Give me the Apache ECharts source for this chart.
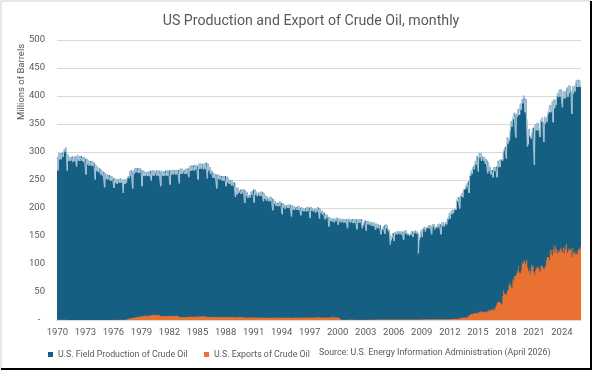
<!DOCTYPE html>
<html><head><meta charset="utf-8">
<script src="https://cdn.jsdelivr.net/npm/echarts@6/dist/echarts.min.js"></script>
<style>html,body{margin:0;padding:0;background:#fff;}#c{width:599px;height:370px;}</style>
</head><body><div id="c"></div>
<script>
// Monthly U.S. field production of crude oil, million barrels (Jan 1970 ...)
const prod1970s = [
291,267,298,287,298,287,298,299,291,305,301,308,
298,267,295,284,291,284,291,293,282,291,284,293,
291,274,295,285,293,284,293,293,284,291,282,290,
288,260,288,278,285,276,284,284,275,284,275,282,
279,251,276,266,273,264,271,270,260,268,258,265,
264,237,262,252,260,251,259,259,249,257,249,256,
253,236,253,245,251,243,251,251,245,253,245,251,
246,227,251,243,251,245,254,257,254,265,258,268,
265,235,268,261,271,264,271,271,263,271,263,271,
267,239,267,257,265,257,264,264,257,265,257,265];
const prod1980s = [
267,249,267,258,267,258,265,267,258,267,258,267,
265,239,267,258,265,257,265,267,258,267,258,267,
267,242,268,260,268,260,268,268,260,268,260,268,
268,244,270,261,270,261,268,268,261,270,261,270,
271,255,274,266,276,267,276,276,267,277,269,277,
274,251,279,270,279,270,279,279,269,279,270,281,
281,253,279,267,273,261,267,265,254,262,254,260,
260,235,260,252,259,251,257,257,249,257,249,257,
257,239,256,246,253,243,250,250,240,250,240,246,
245,220,236,224,236,227,231,233,225,233,227,233];
const prod1990s = [
233,209,231,222,228,218,223,223,219,229,224,231,
233,210,233,224,229,221,226,228,222,229,222,229,
228,212,226,216,222,213,220,217,212,220,213,219,
217,196,215,207,212,204,209,209,203,211,204,211,
209,189,208,201,206,198,205,205,200,206,200,206,
205,185,205,197,203,197,202,202,197,203,197,203,
200,187,202,195,200,194,198,200,194,202,195,202,
200,182,202,195,200,194,198,198,192,200,194,202,
200,181,198,191,195,188,192,192,180,189,183,188,
184,167,183,177,181,176,181,181,174,181,177,183];
const prod2000s = [
181,170,181,176,181,174,180,180,174,180,174,180,
180,164,181,176,180,174,180,180,173,180,174,180,
180,162,180,174,180,174,180,180,164,169,173,178,
177,160,177,171,177,170,174,174,168,174,168,174,
172,161,172,165,171,164,169,169,153,161,162,167,
169,154,171,164,169,161,161,155,135,143,147,155,
155,141,157,153,158,153,158,158,153,158,153,158,
157,143,160,155,160,153,155,153,150,153,153,158,
158,148,158,155,160,155,158,155,119,143,147,157,
161,148,164,161,166,158,164,166,165,169,164,169];
const prod2010s = [
167,153,171,167,171,162,166,167,165,171,167,172,
171,153,174,168,175,167,172,175,171,180,179,184,
191,181,195,189,197,191,198,198,197,214,212,219,
219,199,222,221,226,219,233,234,234,240,237,245,
248,227,257,258,267,261,273,276,269,284,278,293,
290,265,298,290,298,284,293,291,284,290,279,287,
285,262,281,266,273,260,268,268,255,273,266,273,
274,255,284,273,285,273,287,287,285,299,303,308,
310,288,326,315,324,320,339,355,345,358,359,370,
367,326,369,363,377,366,367,386,375,394,387,401];
const prod2020s = [
397,371,395,359,310,314,341,329,327,324,336,343,
344,277,350,339,352,339,352,338,327,357,354,361,
353,318,363,350,361,354,366,372,371,384,371,375,
391,353,394,378,392,384,400,405,398,411,399,412,
391,380,408,396,408,396,411,415,398,419,405,417,
408,368,417,404,417,408,423,428,416,429,416,428,
416];

// Monthly U.S. exports of crude oil, million barrels
const exp1970s = [
0.4,0.5,0.4,0.5,0.4,0.4,0.5,0.4,0.4,0.4,0.4,0.5,
0.1,0,0,0.1,0,0,0,0,0.1,0,0,0,
0,0,0,0,0.1,0,0,0,0,0.1,0,0,
0.1,0,0.1,0,0.1,0,0.1,0,0,0.1,0,0.1,
0.1,0.1,0.1,0.1,0.1,0.1,0.1,0.1,0.1,0.1,0.1,0.1,
0.2,0.2,0.2,0.2,0.2,0.2,0.2,0.2,0.2,0.2,0.2,0.2,
0.2,0.3,0.2,0.3,0.2,0.3,0.2,0.3,0.2,0.3,0.2,0.3,
0.3,0.2,0.3,0.4,0.6,0.8,1.2,1.8,2.5,2.8,3.2,3.6,
3.0,3.6,4.2,4.8,4.5,5.1,5.6,5.0,5.8,6.2,5.4,6.1,
6.8,6.2,7.4,7.0,7.9,6.6,7.5,8.1,6.9,7.3,7.8,8.3];
const exp1980s = [
8.9,8.2,9.6,8.7,9.1,8.4,9.8,8.8,8.1,9.3,8.6,9.0,
7.6,6.8,7.2,6.5,7.4,6.9,7.8,6.6,7.1,7.3,6.4,7.0,
7.4,6.7,7.8,7.1,7.5,6.9,7.7,7.2,6.8,7.6,7.0,7.3,
5.6,4.8,5.4,5.0,5.7,4.9,5.3,5.5,4.7,5.2,5.1,5.6,
5.5,5.2,5.9,5.6,6.1,5.4,5.8,6.3,5.5,6.0,5.7,6.2,
6.4,5.8,6.7,6.1,6.9,6.3,6.6,7.0,6.2,6.8,6.0,6.5,
5.6,4.9,5.3,5.1,5.8,5.0,5.4,5.6,4.8,5.5,5.2,5.7,
5.3,4.8,5.5,5.0,5.4,5.2,5.6,5.1,4.9,5.5,5.0,5.4,
5.4,4.9,5.6,5.1,5.5,5.0,5.7,5.2,5.0,5.6,5.1,5.5,
5.1,4.6,5.3,4.8,5.2,4.9,5.4,5.0,4.7,5.3,4.8,5.1];
const exp1990s = [
4.4,4.0,4.6,4.2,4.5,4.1,4.7,4.3,4.0,4.5,4.2,4.4,
4.5,4.1,4.7,4.3,4.6,4.2,4.8,4.4,4.1,4.6,4.3,4.5,
4.0,3.7,4.2,3.8,4.1,3.9,4.3,4.0,3.7,4.2,3.8,4.1,
4.1,3.8,4.3,3.9,4.2,4.0,4.4,4.1,3.8,4.3,3.9,4.2,
4.2,3.8,4.3,4.0,4.2,4.0,4.4,4.1,3.9,4.3,4.0,4.2,
4.1,3.7,4.2,3.9,4.1,3.9,4.3,4.0,3.8,4.2,3.9,4.1,
4.3,4.0,4.5,4.2,4.4,4.1,4.6,4.3,4.1,4.5,4.2,4.4,
4.3,3.9,4.5,4.1,4.4,4.2,4.6,4.3,4.0,4.5,4.8,5.2,
4.4,4.0,4.6,4.2,4.5,4.1,4.7,4.3,4.1,4.6,4.2,4.5,
4.6,4.2,4.8,4.4,4.7,4.3,7.5,4.5,4.2,4.8,4.4,4.6];
const exp2000s = [
4.2,3.8,3.5,2.9,0.9,0.4,0.3,0.3,0.2,0.3,0.2,0.3,
0.6,0.5,0.7,0.6,0.5,0.6,0.7,0.6,0.5,0.6,0.7,0.6,
0.3,0.2,0.3,0.3,0.2,0.3,0.3,0.2,0.3,0.3,0.2,0.3,
0.4,0.3,0.4,0.4,0.3,0.4,0.4,0.3,0.4,0.4,0.3,0.4,
0.8,0.7,0.8,0.9,0.8,0.7,0.8,0.9,0.8,0.7,0.8,0.9,
1.0,0.9,1.0,1.1,1.0,0.9,1.0,1.1,0.9,1.0,1.0,1.1,
0.8,0.7,0.8,0.9,0.8,0.7,0.8,0.9,0.7,0.8,0.8,0.9,
0.8,0.7,0.9,0.8,0.8,0.7,0.9,0.8,0.8,0.9,0.8,0.8,
0.9,0.8,0.9,1.0,0.9,0.8,0.9,1.0,0.8,0.9,0.9,1.0,
1.2,1.1,1.4,1.3,1.2,1.4,1.3,1.4,1.2,1.4,1.3,1.4];
const exp2010s = [
1.3,1.2,1.3,1.4,1.3,1.2,1.3,1.4,1.2,1.3,1.3,1.4,
1.4,1.3,1.5,1.4,1.4,1.3,1.5,1.4,1.4,1.5,1.4,1.5,
1.9,1.8,2.0,2.1,1.9,2.0,2.1,2.0,1.9,2.1,2.0,2.2,
3.2,3.0,3.5,3.8,4.0,3.9,4.2,4.5,4.3,4.6,4.4,4.8,
7.2,8.0,9.1,10.2,10.8,10.4,11.5,11.0,11.8,12.3,11.6,13.2,
13.0,12.1,14.8,15.6,14.2,13.5,15.9,14.1,13.2,14.8,14.0,15.5,
15.4,14.8,17.5,18.6,16.2,17.9,18.1,19.5,17.4,21.0,18.8,23.5,
26.8,30.2,32.5,33.0,31.7,30.5,29.8,27.6,43.2,53.1,46.5,46.8,
48.2,44.6,52.1,53.8,61.4,66.9,63.5,59.2,56.4,73.8,70.2,77.5,
78.4,79.6,83.7,87.3,96.8,85.2,82.9,84.5,90.1,101.6,100.3,105.4];
const exp2020s = [
105.8,99.6,103.5,107.4,93.2,87.1,92.6,81.3,87.4,98.7,95.2,96.8,
85.6,79.4,88.2,91.5,93.7,95.1,94.3,89.8,86.2,95.6,97.3,96.4,
92.8,90.4,93.6,96.5,105.8,111.7,112.4,111.9,107.3,125.1,117.6,124.9,
115.2,126.4,133.5,120.6,131.3,127.1,119.0,124.5,120.7,123.9,126.6,129.4,
121.6,122.3,128.4,118.7,132.6,126.3,136.8,119.7,124.2,127.5,125.0,127.3,
125.6,112.4,128.7,119.3,120.5,116.4,122.7,117.3,118.9,126.3,127.9,125.2,
131.4];

const tickYears = ['1970','1973','1976','1979','1982','1985','1988','1991','1994','1997','2000','2003','2006','2009','2012','2015','2018','2021','2024'];
const seriesNames = ['U.S. Field Production of Crude Oil', 'U.S. Exports of Crude Oil'];
const sourceText = 'Source: U.S. Energy Information Administration (April 2026)';

const production = [].concat(prod1970s, prod1980s, prod1990s, prod2000s, prod2010s, prod2020s);
const exportsData = [].concat(exp1970s, exp1980s, exp1990s, exp2000s, exp2010s, exp2020s);
const categories = [];
for (let i = 0; i < production.length; i++) {
  const y = 1970 + Math.floor(i / 12), m = i % 12 + 1;
  categories.push(y + '-' + (m < 10 ? '0' : '') + m);
}
const isTick = (idx, val) => val.slice(5) === '01' && tickYears.indexOf(val.slice(0, 4)) >= 0;

const FONT = 'Roboto, sans-serif';
const grey = '#595959';
const legendText = {color: grey, fontSize: 8.8, fontFamily: FONT};
const chart = echarts.init(document.getElementById('c'), null, {renderer: 'canvas'});
chart.setOption({
  animation: false,
  backgroundColor: '#fff',
  title: {
    text: 'US Production and Export of Crude Oil, monthly',
    left: 306, top: 9, textAlign: 'center',
    textStyle: {color: grey, fontSize: 14.2, fontWeight: 'normal', fontFamily: FONT}
  },
  legend: [
    {data: [seriesNames[0]], left: 48, top: 350, itemWidth: 5, itemHeight: 5, icon: 'rect', padding: 0, textStyle: legendText},
    {data: [seriesNames[1]], left: 204, top: 350, itemWidth: 5, itemHeight: 5, icon: 'rect', padding: 0, textStyle: legendText}
  ],
  grid: {left: 57, top: 40, width: 524, height: 280, containLabel: false},
  xAxis: {
    type: 'category', data: categories, boundaryGap: true,
    axisLine: {lineStyle: {color: '#d9d9d9'}},
    axisTick: {interval: isTick, length: 4, lineStyle: {color: '#d9d9d9'}},
    axisLabel: {interval: isTick, formatter: v => v.slice(0, 4), color: grey, fontSize: 9.5, fontFamily: FONT, margin: 8, hideOverlap: false}
  },
  yAxis: {
    type: 'value', min: 0, max: 500, interval: 50,
    axisLine: {show: false}, axisTick: {show: false},
    splitLine: {lineStyle: {color: '#d9d9d9', width: 1}},
    axisLabel: {formatter: v => v === 0 ? '-  ' : String(v), color: grey, fontSize: 9.5, fontFamily: FONT, margin: 12}
  },
  series: [
    {name: seriesNames[0], type: 'bar', data: production, barCategoryGap: '0%', barGap: '-100%',
     large: true, largeThreshold: 100, itemStyle: {color: '#156082'}, z: 2},
    {name: 'edge', type: 'line', step: 'middle', data: production, symbol: 'none', silent: true,
     lineStyle: {color: '#9fc0d4', width: 1}, z: 3},
    {name: seriesNames[1], type: 'bar', data: exportsData, barCategoryGap: '0%', barGap: '-100%',
     large: true, largeThreshold: 100, itemStyle: {color: '#E97132'}, z: 4}
  ],
  graphic: [
    {type: 'text', x: 319, y: 353, style: {text: sourceText, fill: grey, font: '8.8px ' + FONT, textVerticalAlign: 'middle'}},
    {type: 'text', x: 22, y: 82, rotation: Math.PI / 2,
     style: {text: 'Millions of Barrels', fill: grey, font: '9.5px ' + FONT, textAlign: 'center', textVerticalAlign: 'middle'}},
    {type: 'polyline', silent: true, shape: {points: [[1, 369], [1, 1], [591, 1]]}, style: {stroke: '#cfcfcf', lineWidth: 1, fill: null}},
    {type: 'polyline', silent: true, shape: {points: [[591, 1], [591, 369], [1, 369]]}, style: {stroke: '#000', lineWidth: 2, fill: null}}
  ]
});
</script></body></html>
